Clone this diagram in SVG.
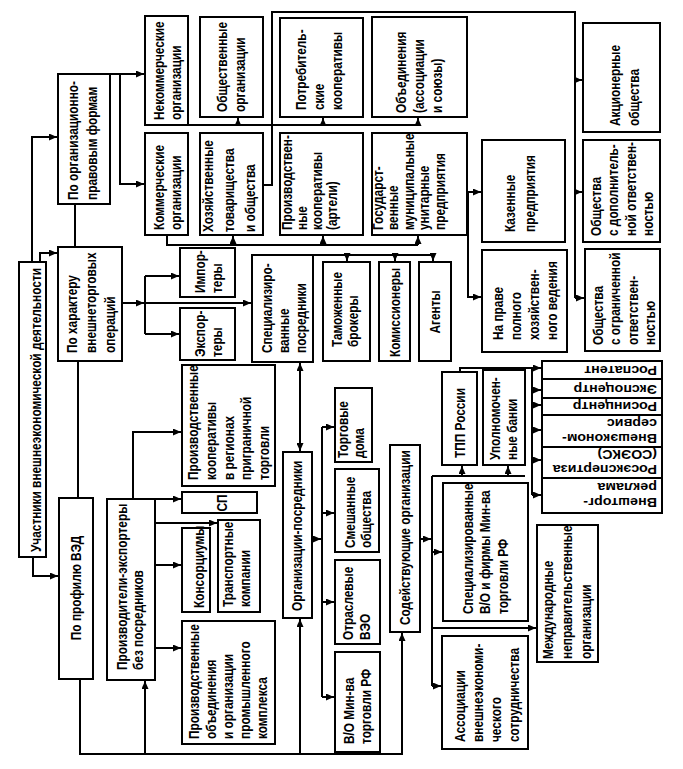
<svg xmlns="http://www.w3.org/2000/svg" width="683" height="769" viewBox="0 0 683 769">
<style>
.b{fill:#fff;stroke:#000;stroke-width:2}
.c{fill:none;stroke:#000;stroke-width:2}
.a{fill:none;stroke:#000;stroke-width:2;marker-end:url(#ah)}
.t{font-family:"Liberation Sans",Arial,sans-serif;font-weight:bold;font-size:15px;fill:#000}
.s{font-family:"Liberation Sans",Arial,sans-serif;font-weight:bold;font-size:13px;fill:#000}
.m{text-anchor:middle}
</style>
<defs>
<marker id="ah" viewBox="0 0 8 7" refX="8" refY="3.5" markerWidth="8" markerHeight="7" markerUnits="userSpaceOnUse" orient="auto-start-reverse"><path d="M0,0 L8,3.5 L0,7 z" fill="#000"/></marker>
</defs>
<rect width="683" height="769" fill="#fff"/>
<g id="connectors">
<path class="a" d="M32,262 V137 H57"/>
<path class="a" d="M40,262 V253 H57"/>
<path class="a" d="M33,557 V576 H58"/>
<path class="a" d="M110,74 H144"/>
<path class="a" d="M120,74 V184 H144"/>
<path class="c" d="M75,204 V247"/>
<path class="c" d="M78,361 V498"/>
<path class="a" d="M122,303 H144"/>
<path class="c" d="M145,276 V334"/>
<path class="a" d="M145,276 H179"/>
<path class="a" d="M145,334 H179"/>
<path class="a" d="M145,303 H251"/>
<path class="c" d="M188,125 H418"/>
<path class="a" d="M238,125 V118"/>
<path class="a" d="M323,125 V118"/>
<path class="a" d="M418,125 V118"/>
<path class="c" d="M167,235 V245 H418"/>
<path class="a" d="M233,245 V236"/>
<path class="a" d="M323,245 V236"/>
<path class="a" d="M418,245 V236"/>
<path class="c" d="M263,185 H272 V12 H575 V298"/>
<path class="a" d="M575,80 H582"/>
<path class="a" d="M575,192 H582"/>
<path class="a" d="M575,298 H584"/>
<path class="a" d="M467,192 H481"/>
<path class="a" d="M468,192 V297 H481"/>
<path class="c" d="M313,255 H433"/>
<path class="a" d="M347,255 V261"/>
<path class="a" d="M395,255 V261"/>
<path class="a" d="M433,255 V261"/>
<path class="a" d="M300,451 V363" marker-start="url(#ah)"/>
<path class="a" d="M133,499 V432 H181"/>
<path class="a" d="M155,499 H181"/>
<path class="a" d="M155,523 H217"/>
<path class="a" d="M155,565 H181"/>
<path class="a" d="M155,648 H181"/>
<path class="a" d="M80,679 V754 H402 V633"/>
<path class="a" d="M145,754 V681"/>
<path class="a" d="M300,754 V619"/>
<path class="a" d="M312,539 H321"/>
<path class="c" d="M322,427 V697"/>
<path class="a" d="M322,427 H334"/>
<path class="a" d="M322,513 H334"/>
<path class="a" d="M322,602 H334"/>
<path class="a" d="M322,697 H334"/>
<path class="a" d="M420,539 H431"/>
<path class="c" d="M432,476 V686"/>
<path class="c" d="M432,476 H525"/>
<path class="a" d="M462,476 V466"/>
<path class="a" d="M508,476 V466"/>
<path class="a" d="M432,552 H442"/>
<path class="a" d="M432,628 H536"/>
<path class="a" d="M432,686 H441"/>
<path class="c" d="M460,372 V368 H532 V495"/>
<path class="a" d="M532,368 H541"/>
<path class="a" d="M532,390 H541"/>
<path class="a" d="M532,405 H541"/>
<path class="a" d="M532,430 H541"/>
<path class="a" d="M532,460 H541"/>
<path class="a" d="M532,495 H541"/>
</g>
<g id="n1"><rect class="b" x="19" y="262" width="27" height="295"/><text class="t" transform="translate(41,552) rotate(-90) scale(0.79,1)">Участники внешнеэкономической деятельности</text></g>
<g id="n2"><rect class="b" x="58" y="74" width="52" height="130"/><text class="t" transform="translate(78,200) rotate(-90) scale(0.79,1)"><tspan x="0" y="0">По организационно-</tspan><tspan x="0" y="19">правовым формам</tspan></text></g>
<g id="n3"><rect class="b" x="58" y="247" width="64" height="114"/><text class="t" transform="translate(77,353) rotate(-90) scale(0.79,1)"><tspan x="0" y="0">По характеру</tspan><tspan x="0" y="19">внешнеторговых</tspan><tspan x="0" y="38">операций</tspan></text></g>
<g id="n4"><rect class="b" x="59" y="498" width="34" height="181"/><text class="t m" transform="translate(81,588) rotate(-90) scale(0.79,1)">По профилю ВЭД</text></g>
<g id="n5"><rect class="b" x="107" y="499" width="48" height="181"/><text class="t" transform="translate(127,670) rotate(-90) scale(0.79,1)"><tspan x="0" y="0">Производители-экспортеры</tspan><tspan x="0" y="16">без посредников</tspan></text></g>
<g id="n6"><rect class="b" x="145" y="16" width="43" height="109"/><text class="t" transform="translate(164,120) rotate(-90) scale(0.79,1)"><tspan x="0" y="0">Некоммерческие</tspan><tspan x="0" y="17">организации</tspan></text></g>
<g id="n7"><rect class="b" x="145" y="133" width="43" height="102"/><text class="t" transform="translate(164,230) rotate(-90) scale(0.79,1)"><tspan x="0" y="0">Коммерческие</tspan><tspan x="0" y="17">организации</tspan></text></g>
<g id="n8"><rect class="b" x="200" y="17" width="63" height="100"/><text class="t" transform="translate(227,112) rotate(-90) scale(0.79,1)"><tspan x="0" y="0">Общественные</tspan><tspan x="0" y="18">организации</tspan></text></g>
<g id="n9"><rect class="b" x="200" y="133" width="63" height="102"/><text class="t" transform="translate(213,232) rotate(-90) scale(0.79,1)"><tspan x="0" y="0">Хозяйственные</tspan><tspan x="0" y="21">товарищества</tspan><tspan x="0" y="42">и общества</tspan></text></g>
<g id="n10"><rect class="b" x="280" y="18" width="83" height="99"/><text class="t" transform="translate(306,110) rotate(-90) scale(0.79,1)"><tspan x="0" y="0">Потребитель-</tspan><tspan x="0" y="18">ские</tspan><tspan x="0" y="36">кооперативы</tspan></text></g>
<g id="n11"><rect class="b" x="372" y="17" width="95" height="100"/><text class="t" transform="translate(406,113) rotate(-90) scale(0.79,1)"><tspan x="0" y="0">Объединения</tspan><tspan x="0" y="18">(ассоциации</tspan><tspan x="0" y="36">и союзы)</tspan></text></g>
<g id="n12"><rect class="b" x="280" y="133" width="83" height="102"/><text class="t" transform="translate(292,230) rotate(-90) scale(0.79,1)"><tspan x="0" y="0">Производствен-</tspan><tspan x="0" y="15">ные</tspan><tspan x="0" y="30">кооперативы</tspan><tspan x="0" y="45">(артели)</tspan></text></g>
<g id="n13"><rect class="b" x="372" y="133" width="95" height="102"/><text class="t" transform="translate(383,230) rotate(-90) scale(0.79,1)"><tspan x="0" y="0">Государст-</tspan><tspan x="0" y="15.5">венные</tspan><tspan x="0" y="31">муниципальные</tspan><tspan x="0" y="46.5">унитарные</tspan><tspan x="0" y="62">предприятия</tspan></text></g>
<g id="n14"><rect class="b" x="583" y="23" width="77" height="109"/><text class="t" transform="translate(620,126) rotate(-90) scale(0.79,1)"><tspan x="0" y="0">Акционерные</tspan><tspan x="0" y="19">общества</tspan></text></g>
<g id="n15"><rect class="b" x="583" y="140" width="77" height="102"/><text class="t" transform="translate(601,236) rotate(-90) scale(0.79,1)"><tspan x="0" y="0">Общества</tspan><tspan x="0" y="17.5">с дополнитель-</tspan><tspan x="0" y="35">ной ответствен-</tspan><tspan x="0" y="52.5">ностью</tspan></text></g>
<g id="n16"><rect class="b" x="482" y="140" width="83" height="102"/><text class="t" transform="translate(515,232) rotate(-90) scale(0.79,1)"><tspan x="0" y="0">Казенные</tspan><tspan x="0" y="20">предприятия</tspan></text></g>
<g id="n17"><rect class="b" x="482" y="250" width="85" height="102"/><text class="t" transform="translate(503,340) rotate(-90) scale(0.79,1)"><tspan x="0" y="0">На праве</tspan><tspan x="0" y="18">полного</tspan><tspan x="0" y="36">хозяйствен-</tspan><tspan x="0" y="54">ного ведения</tspan></text></g>
<g id="n18"><rect class="b" x="585" y="249" width="75" height="102"/><text class="t" transform="translate(603,345) rotate(-90) scale(0.79,1)"><tspan x="0" y="0">Общества</tspan><tspan x="0" y="17.5">с ограниченной</tspan><tspan x="0" y="35">ответствен-</tspan><tspan x="0" y="52.5">ностью</tspan></text></g>
<g id="n19"><rect class="b" x="180" y="248" width="55" height="49"/><text class="t" transform="translate(205,293) rotate(-90) scale(0.79,1)"><tspan x="0" y="0">Импор-</tspan><tspan x="0" y="17">теры</tspan></text></g>
<g id="n20"><rect class="b" x="180" y="308" width="55" height="52"/><text class="t" transform="translate(205,357) rotate(-90) scale(0.79,1)"><tspan x="0" y="0">Экспор-</tspan><tspan x="0" y="17">теры</tspan></text></g>
<g id="n21"><rect class="b" x="252" y="255" width="61" height="107"/><text class="t" transform="translate(272,353) rotate(-90) scale(0.79,1)"><tspan x="0" y="0">Специализиро-</tspan><tspan x="0" y="17">ванные</tspan><tspan x="0" y="34">посредники</tspan></text></g>
<g id="n22"><rect class="b" x="323" y="262" width="47" height="99"/><text class="t" transform="translate(342,347) rotate(-90) scale(0.79,1)"><tspan x="0" y="0">Таможенные</tspan><tspan x="0" y="16">брокеры</tspan></text></g>
<g id="n23"><rect class="b" x="379" y="262" width="31" height="99"/><text class="t" transform="translate(400,357) rotate(-90) scale(0.79,1)">Комиссионеры</text></g>
<g id="n24"><rect class="b" x="419" y="262" width="32" height="99"/><text class="t m" transform="translate(440,312) rotate(-90) scale(0.79,1)">Агенты</text></g>
<g id="n25"><rect class="b" x="182" y="365" width="93" height="121"/><text class="t" transform="translate(198,480) rotate(-90) scale(0.79,1)"><tspan x="0" y="0">Производственные</tspan><tspan x="0" y="17.8">кооперативы</tspan><tspan x="0" y="35.6">в регионах</tspan><tspan x="0" y="53.4">приграничной</tspan><tspan x="0" y="71.2">торговли</tspan></text></g>
<g id="n26"><rect class="b" x="182" y="492" width="75" height="21"/><text class="t m" transform="translate(227,503) rotate(-90) scale(0.79,1)">СП</text></g>
<g id="n27"><rect class="b" x="182" y="528" width="28" height="84"/><text class="t" transform="translate(204,608) rotate(-90) scale(0.79,1)">Консорциумы</text></g>
<g id="n28"><rect class="b" x="218" y="520" width="42" height="92"/><text class="t" transform="translate(233,607) rotate(-90) scale(0.79,1)"><tspan x="0" y="0">Транспортные</tspan><tspan x="0" y="17">компании</tspan></text></g>
<g id="n29"><rect class="b" x="182" y="621" width="93" height="123"/><text class="t" transform="translate(199,739) rotate(-90) scale(0.79,1)"><tspan x="0" y="0">Производственные</tspan><tspan x="0" y="17">объединения</tspan><tspan x="0" y="34">и организации</tspan><tspan x="0" y="51">промышленного</tspan><tspan x="0" y="68">комплекса</tspan></text></g>
<g id="n30"><rect class="b" x="283" y="452" width="29" height="166"/><text class="t" transform="translate(302,611) rotate(-90) scale(0.79,1)">Организации-посредники</text></g>
<g id="n31"><rect class="b" x="335" y="388" width="37" height="74"/><text class="t" transform="translate(348,458) rotate(-90) scale(0.79,1)"><tspan x="0" y="0">Торговые</tspan><tspan x="0" y="16">дома</tspan></text></g>
<g id="n32"><rect class="b" x="335" y="469" width="44" height="83"/><text class="t" transform="translate(355,548) rotate(-90) scale(0.79,1)"><tspan x="0" y="0">Смешанные</tspan><tspan x="0" y="16">общества</tspan></text></g>
<g id="n33"><rect class="b" x="335" y="560" width="45" height="84"/><text class="t" transform="translate(353,640) rotate(-90) scale(0.79,1)"><tspan x="0" y="0">Отраслевые</tspan><tspan x="0" y="17">ВЭО</tspan></text></g>
<g id="n34"><rect class="b" x="335" y="652" width="45" height="100"/><text class="t" transform="translate(354,744) rotate(-90) scale(0.79,1)"><tspan x="0" y="0">В/О Мин-ва</tspan><tspan x="0" y="17">торговли РФ</tspan></text></g>
<g id="n35"><rect class="b" x="390" y="445" width="30" height="187"/><text class="t" transform="translate(410,625) rotate(-90) scale(0.79,1)">Содействующие организации</text></g>
<g id="n36"><rect class="b" x="442" y="372" width="35" height="93"/><text class="t" transform="translate(465,458) rotate(-90) scale(0.79,1)">ТПП России</text></g>
<g id="n37"><rect class="b" x="483" y="370" width="42" height="95"/><text class="t" transform="translate(500,460) rotate(-90) scale(0.79,1)"><tspan x="0" y="0">Уполномочен-</tspan><tspan x="0" y="17">ные банки</tspan></text></g>
<g id="n38"><rect class="b" x="443" y="483" width="85" height="138"/><text class="t" transform="translate(473,614) rotate(-90) scale(0.79,1)"><tspan x="0" y="0">Специализированные</tspan><tspan x="0" y="17.5">В/О и фирмы Мин-ва</tspan><tspan x="0" y="35">торговли РФ</tspan></text></g>
<g id="n39"><rect class="b" x="537" y="525" width="61" height="137"/><text class="t" transform="translate(553,659) rotate(-90) scale(0.79,1)"><tspan x="0" y="0">Международные</tspan><tspan x="0" y="19">неправительственные</tspan><tspan x="0" y="38">организации</tspan></text></g>
<g id="n40"><rect class="b" x="442" y="636" width="86" height="113"/><text class="t" transform="translate(465,742) rotate(-90) scale(0.79,1)"><tspan x="0" y="0">Ассоциации</tspan><tspan x="0" y="18">внешнеэкономи-</tspan><tspan x="0" y="36">ческого</tspan><tspan x="0" y="54">сотрудничества</tspan></text></g>
<g id="n41"><rect class="b" x="542" y="361" width="120" height="18"/><text class="s" transform="translate(657,366) rotate(180) scale(1.1,1)">Роспатент</text></g>
<g id="n42"><rect class="b" x="542" y="379" width="120" height="19"/><text class="s" transform="translate(657,384.5) rotate(180) scale(1.1,1)">Экспоцентр</text></g>
<g id="n43"><rect class="b" x="542" y="398" width="120" height="17"/><text class="s" transform="translate(657,402) rotate(180) scale(1.1,1)">Росинцентр</text></g>
<g id="n44"><rect class="b" x="542" y="415" width="120" height="32"/><text class="s" transform="translate(657,434) rotate(180) scale(1.1,1)"><tspan x="0" y="0">Внешэконом-</tspan><tspan x="0" y="15">сервис</tspan></text></g>
<g id="n45"><rect class="b" x="542" y="447" width="120" height="31"/><text class="s" transform="translate(657,465) rotate(180) scale(1.1,1)"><tspan x="0" y="0">Росэкспертиза</tspan><tspan x="0" y="15">(СОЭКС)</tspan></text></g>
<g id="n46"><rect class="b" x="542" y="478" width="120" height="35"/><text class="s" transform="translate(657,498) rotate(180) scale(1.1,1)"><tspan x="0" y="0">Внешторг-</tspan><tspan x="0" y="15">реклама</tspan></text></g>
</svg>
